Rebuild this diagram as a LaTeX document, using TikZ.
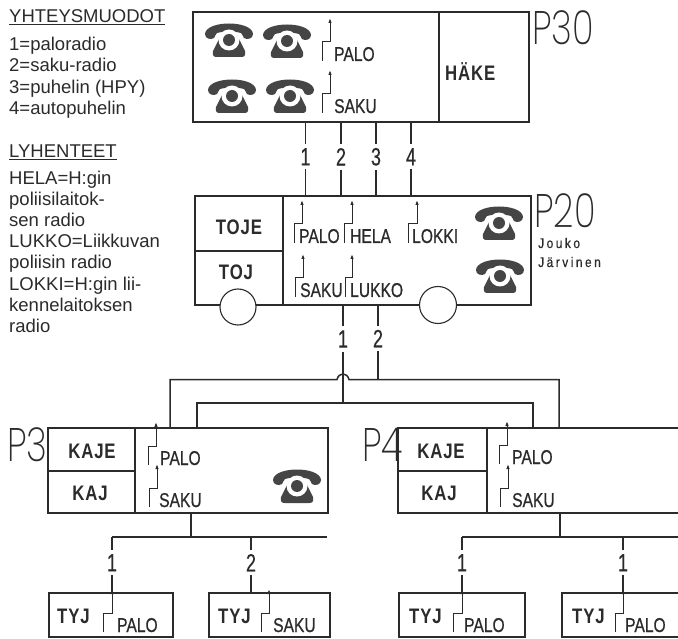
\documentclass[tikz,border=0pt]{standalone}
\usepackage{fontspec}
\usetikzlibrary{arrows.meta}
\setmainfont{Liberation Sans}
\newfontfamily\condfont[FakeStretch=0.78,FakeBold=0.6]{Liberation Sans}
\newfontfamily\numfont[FakeStretch=0.72,FakeBold=0.3]{Liberation Sans}
\newfontfamily\jfont[FakeStretch=0.85,LetterSpace=18,FakeBold=0.5]{Liberation Sans}
\newfontfamily\boldlab[FakeStretch=0.8,LetterSpace=4]{Liberation Sans Bold}
\newfontfamily\bigthin[FakeStretch=0.76]{Poppins ExtraLight}
\definecolor{ink}{HTML}{2B2B2B}
\definecolor{phonegray}{HTML}{454545}
\tikzset{
  box/.style={draw=ink,line width=1.2pt,rectangle,inner sep=0pt,outer sep=0pt},
  conn/.style={draw=ink,line width=1.5pt},
  legend/.style={anchor=base west,inner sep=0pt,text=ink,font=\fontsize{18.5}{21}\selectfont},
  num/.style={fill=white,inner xsep=1.5pt,inner ysep=4pt,text=ink,font=\numfont\fontsize{25}{25}\selectfont},
  blab/.style={inner sep=0pt,text=ink,font=\boldlab\fontsize{21}{21}\selectfont},
  rad/.style={anchor=base west,inner sep=0pt,text=ink,font=\condfont\fontsize{20}{20}\selectfont},
  pname/.style={anchor=base west,inner sep=0pt,text=ink,font=\bigthin\fontsize{47}{47}\selectfont},
  smalltext/.style={anchor=base west,inner sep=0pt,text=ink,font=\jfont\fontsize{14}{14}\selectfont},
  antenna/.style={draw=ink,line width=1pt,-{Latex[length=5pt,width=3.5pt]}},
  phone/.pic={
    \fill[phonegray] (-24,-7) .. controls (-23,-21) and (23,-21) .. (24,-7)
      .. controls (24,-2) and (18,-1) .. (15,-3)
      .. controls (13,-5) and (14,-7) .. (12,-8)
      .. controls (5,-10) and (-5,-10) .. (-12,-8)
      .. controls (-14,-7) and (-13,-5) .. (-15,-3)
      .. controls (-18,-1) and (-24,-2) .. (-24,-7) -- cycle;
    \fill[phonegray] (-9,-4) -- (9,-4) -- (16,10) .. controls (17,15) and (15,16) .. (12,16)
      -- (-12,16) .. controls (-15,16) and (-17,15) .. (-16,10) -- cycle;
    \fill[white] (0,-1) circle (10.5);
    \fill[phonegray] (0,-1) circle (6);
    \fill[phonegray] (-9,13) -- (9,13) -- (9,16) -- (-9,16) -- cycle;
  }
}
\newcommand\radiosym[6]{%
  \coordinate (#1) at (#2,#3);
  \draw[antenna] (#1) -- ++(0,-19) -- ++(#4,0) -- ++(0,-24);
  \node[rad] (#1t) at (#5,#3) {#6};}
\begin{document}
\begin{tikzpicture}[x=1pt,y=-1pt]
\useasboundingbox (0,0) rectangle (678,639);
\fill[white] (0,0) rectangle (678,639);

% legend
\node[legend] (l1) at (9,23) {\underline{YHTEYSMUODOT}};
\node[legend] (l2) at (9,51) {1=paloradio};
\node[legend] (l3) at (9,72) {2=saku-radio};
\node[legend] (l4) at (9,94) {3=puhelin (HPY)};
\node[legend] (l5) at (9,115) {4=autopuhelin};
\node[legend] (l6) at (9,158) {\underline{LYHENTEET}};
\node[legend] (l7) at (9,185) {HELA=H:gin};
\node[legend] (l8) at (9,206) {poliisilaitok-};
\node[legend] (l9) at (9,227) {sen radio};
\node[legend] (l10) at (9,248) {LUKKO=Liikkuvan};
\node[legend] (l11) at (9,269) {poliisin radio};
\node[legend] (l12) at (9,291) {LOKKI=H:gin lii-};
\node[legend] (l13) at (9,312) {kennelaitoksen};
\node[legend] (l14) at (9,333) {radio};

% P30
\node[box,minimum width=246pt,minimum height=110pt] (p30l) at (316,67) {};
\node[box,minimum width=90pt,minimum height=110pt] (p30r) at (484,67) {};
\node[blab,anchor=west] (hake) at (445,72) {HÄKE};
\node[pname] (np30) at (532,45) {P30};
\pic at (229,41) {phone};
\pic at (287,42) {phone};
\pic at (232,97) {phone};
\pic at (290,97) {phone};
\radiosym{a1}{322}{61}{8}{334}{PALO}
\radiosym{a2}{322}{113}{8}{334}{SAKU}

% P20
\node[box,minimum width=88pt,minimum height=55pt] (toje) at (239,223.5) {};
\node[box,minimum width=88pt,minimum height=54pt] (toj) at (239,278) {};
\node[box,minimum width=248pt,minimum height=109pt] (p20r) at (407,250.5) {};
\node[blab] at (239,227) (tojet) {TOJE};
\node[blab] at (236,272) (tojt) {TOJ};
\node[pname] (np20) at (534,228) {P20};
\node[smalltext] (jk) at (538,248) {Jouko};
\node[smalltext] (jv) at (538,267) {Järvinen};
\node[draw=ink,line width=1.1pt,fill=white,circle,minimum size=36pt,inner sep=0pt] (w1) at (238,307) {};
\node[draw=ink,line width=1.1pt,fill=white,circle,minimum size=37pt,inner sep=0pt] (w2) at (438,305) {};
\pic at (499,224) {phone};
\pic at (500,277) {phone};
\radiosym{b1}{294}{243}{8}{299}{PALO}
\radiosym{b2}{344}{243}{8}{350}{HELA}
\radiosym{b3}{408}{243}{9}{412}{LOKKI}
\radiosym{b4}{295}{297}{8}{300}{SAKU}
\radiosym{b5}{345}{297}{7}{350}{LUKKO}

% P3
\node[box,minimum width=87pt,minimum height=43pt] (kaje1) at (91.5,449.5) {};
\node[box,minimum width=87pt,minimum height=42pt] (kaj1) at (91.5,492) {};
\node[box,minimum width=193pt,minimum height=85pt] (p3r) at (231.5,470.5) {};
\node[blab] (kaje1t) at (92,451) {KAJE};
\node[blab] (kaj1t) at (90,493) {KAJ};
\node[pname] (np3) at (7,461) {P3};
\pic at (297,487) {phone};
\radiosym{c1}{148}{465}{8}{160}{PALO}
\radiosym{c2}{149}{507}{8}{159}{SAKU}

% P4
\node[box,minimum width=89pt,minimum height=43pt] (kaje2) at (442.5,449.5) {};
\node[box,minimum width=89pt,minimum height=42pt] (kaj2) at (442.5,492) {};
\node[box,minimum width=200pt,minimum height=85pt] (p4r) at (587,470.5) {};
\node[blab] (kaje2t) at (441,451) {KAJE};
\node[blab] (kaj2t) at (439,493) {KAJ};
\node[pname] (np4) at (362,461) {P4};
\radiosym{d1}{499}{464}{8}{512}{PALO}
\radiosym{d2}{500}{507}{8}{512}{SAKU}

% TYJ boxes
\node[box,minimum width=124pt,minimum height=44pt] (t1) at (111,615) {};
\node[box,minimum width=121pt,minimum height=44pt] (t2) at (269.5,615) {};
\node[box,minimum width=126pt,minimum height=44pt] (t3) at (462,615) {};
\node[box,minimum width=128pt,minimum height=44pt] (t4) at (626,615) {};
\node[blab,anchor=base west] (t1t) at (57,623) {TYJ};
\node[blab,anchor=base west] (t2t) at (218,623) {TYJ};
\node[blab,anchor=base west] (t3t) at (409,623) {TYJ};
\node[blab,anchor=base west] (t4t) at (572,623) {TYJ};
\radiosym{e1}{103}{632}{9}{117}{PALO}
\radiosym{e2}{261}{632}{8}{273}{SAKU}
\radiosym{e3}{453}{632}{9}{464}{PALO}
\radiosym{e4}{615}{632}{8}{625}{PALO}

% connectors P30-P20
\foreach \cx/\cl/\cn in {305.5/1/q1,341/2/q2,376/3/q3,411/4/q4}{
  \coordinate (\cn) at (\cx,0);
  \draw[conn] (\cn |- p30l.south) -- node[num,pos=.47]{\cl} (\cn |- p20r.north);
}

% bus coordinates
\coordinate (upL) at (170,379.5);
\coordinate (upR) at (559,379.5);
\coordinate (loL) at (197,403);
\coordinate (loR) at (533,403);
\coordinate (jl) at (337,379.5);
\coordinate (jr) at (349,379.5);
\coordinate (r1) at (343,0);
\coordinate (r2) at (378,0);
\draw[conn] (upL |- p3r.north) -- (upL) -- (jl)
  .. controls (339,372) and (347,372) .. (jr) -- (upR) -- (upR |- p4r.north);
\draw[conn] (loL |- p3r.north) -- (loL) -- (loR) -- (loR |- p4r.north);
\coordinate (r1low) at (r1 |- loL);
\coordinate (r2low) at (r2 |- upL);
\draw[conn] (r1 |- p20r.south) -- node[num,pos=.347]{1} (r1low);
\draw[conn] (r2 |- p20r.south) -- node[num,pos=.45]{2} (r2low);

% P3 lower bus
\coordinate (sL) at (112,537);
\coordinate (sR) at (327,537);
\coordinate (sT) at (191,537);
\coordinate (sD) at (251,537);
\draw[conn] (sT |- p3r.south) -- (sT);
\draw[conn] (sR) -- (sL);
\draw[conn] (sL) -- node[num,pos=.46]{1} (sL |- t1.north);
\draw[conn] (sD) -- node[num,pos=.46]{2} (sD |- t2.north);

% P4 lower bus
\coordinate (uL) at (462,537);
\coordinate (uR) at (690,537);
\coordinate (uT) at (560,537);
\coordinate (uD) at (623,537);
\draw[conn] (uT |- p4r.south) -- (uT);
\draw[conn] (uR) -- (uL);
\draw[conn] (uL) -- node[num,pos=.46]{1} (uL |- t3.north);
\draw[conn] (uD) -- node[num,pos=.46]{1} (uD |- t4.north);
\end{tikzpicture}
\end{document}
